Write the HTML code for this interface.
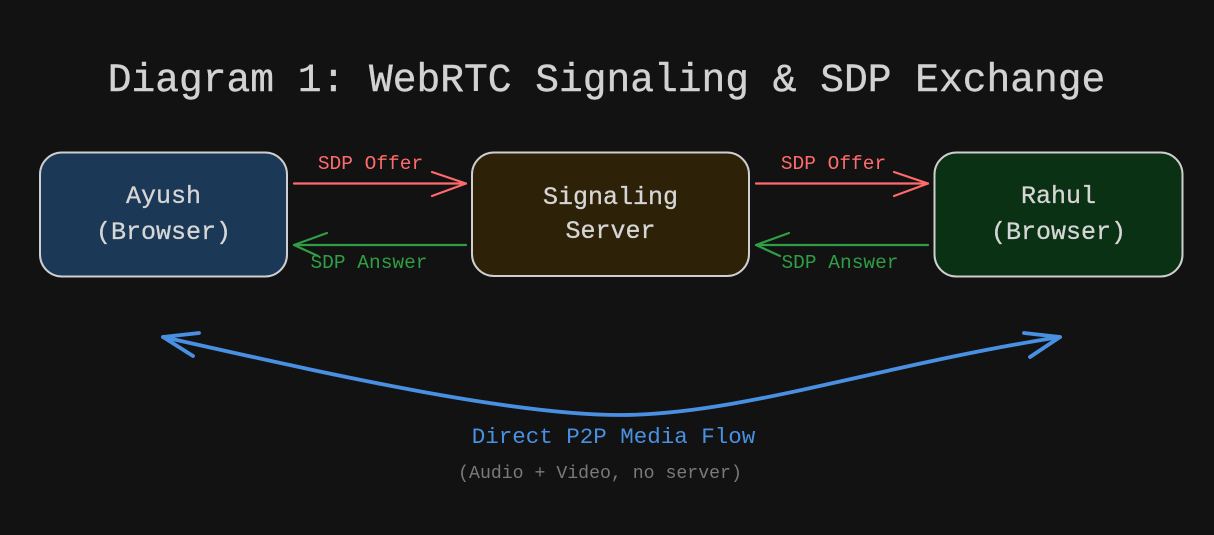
<!DOCTYPE html>
<html>
<head>
<meta charset="utf-8">
<style>
  html, body { margin:0; padding:0; background:#121212; }
  body { width:1214px; height:535px; overflow:hidden; }
  svg { display:block; }
  text { font-family: "Liberation Mono", "DejaVu Sans Mono", monospace; }
</style>
</head>
<body>
<svg width="1214" height="535" viewBox="0 0 1214 535" xmlns="http://www.w3.org/2000/svg">
  <rect x="0" y="0" width="1214" height="535" fill="#121212"/>

  <!-- Title -->
  <text x="606.5" y="91" font-size="39.6" fill="#d2d2d2" text-anchor="middle" stroke="#d2d2d2" stroke-width="0.4">Diagram 1: WebRTC Signaling &amp; SDP Exchange</text>

  <!-- Boxes -->
  <rect x="40" y="152.5" width="247" height="124" rx="22" ry="22" fill="#1b3956" stroke="#cfcfcf" stroke-width="2"/>
  <rect x="472" y="152.5" width="277" height="123.5" rx="22" ry="22" fill="#2d2208" stroke="#cfcfcf" stroke-width="2"/>
  <rect x="934.5" y="152.5" width="248" height="124" rx="22" ry="22" fill="#0a3113" stroke="#cfcfcf" stroke-width="2"/>

  <!-- Box labels -->
  <g font-size="25" fill="#d6d6d6" text-anchor="middle" stroke="#d6d6d6" stroke-width="0.3">
    <text x="163.5" y="203">Ayush</text>
    <text x="163.5" y="239">(Browser)</text>
    <text x="610.5" y="204">Signaling</text>
    <text x="610.5" y="238">Server</text>
    <text x="1058.5" y="203">Rahul</text>
    <text x="1058.5" y="239">(Browser)</text>
  </g>

  <!-- SDP Offer arrows (red) -->
  <g stroke="#ff6b6b" stroke-width="2.2" fill="none" stroke-linecap="round" stroke-linejoin="round">
    <line x1="294" y1="183.5" x2="466" y2="183.5"/>
    <polyline points="432,172 466,183.5 432,196"/>
    <line x1="756" y1="183.5" x2="928" y2="183.5"/>
    <polyline points="894,172 928,183.5 894,196"/>
  </g>
  <g font-size="19.5" fill="#ff6b6b" text-anchor="middle">
    <text x="370.5" y="169">SDP Offer</text>
    <text x="833.5" y="169">SDP Offer</text>
  </g>

  <!-- SDP Answer arrows (green) -->
  <g stroke="#2f9e44" stroke-width="2.2" fill="none" stroke-linecap="round" stroke-linejoin="round">
    <line x1="466" y1="245" x2="294" y2="245"/>
    <polyline points="327,233 294,245 318,256"/>
    <line x1="928" y1="245" x2="756" y2="245"/>
    <polyline points="789,233 756,245 780,256"/>
  </g>
  <g font-size="19.5" fill="#2f9e44" text-anchor="middle">
    <text x="369" y="268">SDP Answer</text>
    <text x="840" y="268">SDP Answer</text>
  </g>

  <!-- P2P curve (blue) -->
  <g stroke="#4a90e2" stroke-width="3.8" fill="none" stroke-linecap="round" stroke-linejoin="round">
    <path d="M163,337 C290,365 500,415 620,415 C740,415 880,365 1060,337"/>
    <polyline points="199,333 163,337 193,356"/>
    <polyline points="1024,333 1060,337 1030,357"/>
  </g>

  <text x="613.5" y="443" font-size="22.5" fill="#4a90e2" text-anchor="middle">Direct P2P Media Flow</text>
  <text x="600" y="478" font-size="18.2" fill="#7a7a7a" text-anchor="middle">(Audio + Video, no server)</text>
</svg>
</body>
</html>
